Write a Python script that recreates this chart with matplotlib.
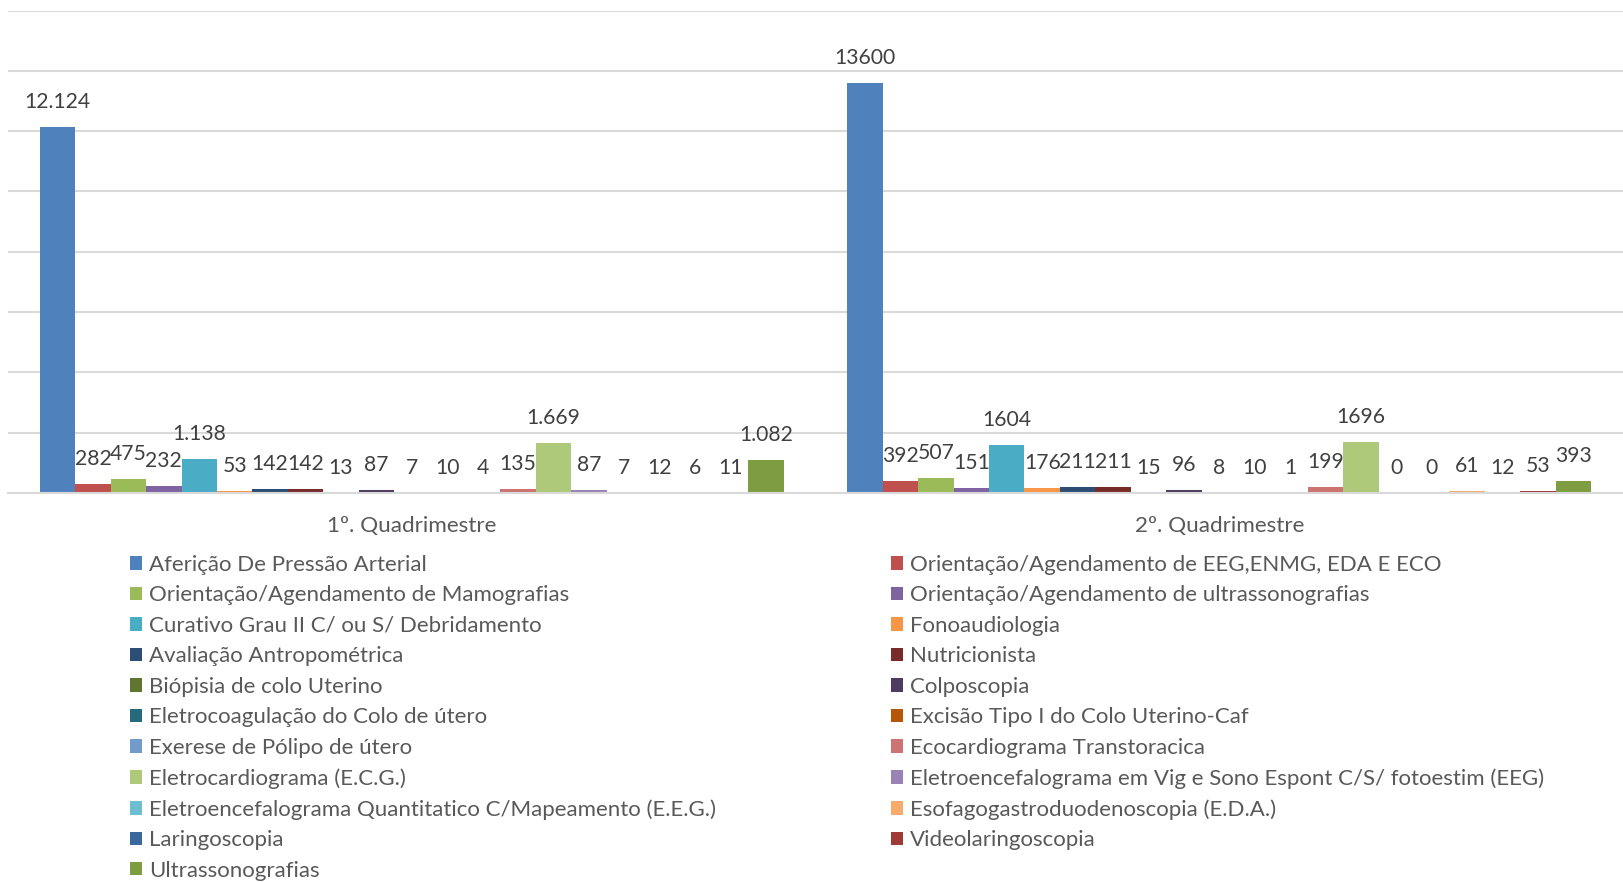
import matplotlib
matplotlib.use("Agg")
import matplotlib.pyplot as plt
import numpy as np

categories = ["1º. Quadrimestre", "2º. Quadrimestre"]

series_names = [
    "Aferição De Pressão Arterial",
    "Orientação/Agendamento de EEG,ENMG, EDA E ECO",
    "Orientação/Agendamento de Mamografias",
    "Orientação/Agendamento de ultrassonografias",
    "Curativo Grau II C/ ou S/ Debridamento",
    "Fonoaudiologia",
    "Avaliação Antropométrica",
    "Nutricionista",
    "Biópisia de colo Uterino",
    "Colposcopia",
    "Eletrocoagulação do Colo de útero",
    "Excisão Tipo I do Colo Uterino-Caf",
    "Exerese de Pólipo de útero",
    "Ecocardiograma Transtoracica",
    "Eletrocardiograma (E.C.G.)",
    "Eletroencefalograma em Vig e Sono Espont C/S/ fotoestim (EEG)",
    "Eletroencefalograma Quantitatico C/Mapeamento (E.E.G.)",
    "Esofagogastroduodenoscopia (E.D.A.)",
    "Laringoscopia",
    "Videolaringoscopia",
    "Ultrassonografias",
]

q1_values = [12124, 282, 475, 232, 1138, 53, 142, 142, 13, 87, 7, 10, 4, 135, 1669, 87, 7, 12, 6, 11, 1082]
q2_values = [13600, 392, 507, 151, 1604, 176, 211, 211, 15, 96, 8, 10, 1, 199, 1696, 0, 0, 61, 12, 53, 393]

colors = [
    "#4F81BD", "#C0504D", "#9BBB59", "#8064A2", "#4BACC6", "#F79646",
    "#2C4D75", "#772C2A", "#5F7530", "#4D3B62", "#276A7C", "#B65708",
    "#729ACA", "#CD7371", "#AFC97A", "#9983B5", "#6FBDD1", "#F9AB6B",
    "#3A679C", "#9E3B39", "#7E9D40",
]

FONT = "Lato"
plt.rcParams["font.family"] = [FONT, "DejaVu Sans"]

W, H = 1623, 882
fig = plt.figure(figsize=(W / 100, H / 100), dpi=100)
ax = fig.add_axes([8 / W, 1 - 493 / H, (W - 8) / W, (493 - 10.5) / H])

n = len(series_names)
group = 0.921
bw = group / n
x = np.arange(len(categories))

def fmt_q1(v):
    return f"{v:,}".replace(",", ".")

def fmt_q2(v):
    return str(v)

handles = []
for i in range(n):
    vals = [q1_values[i], q2_values[i]]
    xs = x - group / 2 + bw * (i + 0.5)
    b = ax.bar(xs, vals, width=bw, color=colors[i], label=series_names[i], zorder=3, linewidth=0)
    handles.append(b)
    for j, v in enumerate(vals):
        lab = fmt_q1(v) if j == 0 else fmt_q2(v)
        ax.annotate(lab, (xs[j], v), xytext=(0, 13.7), textcoords="offset points",
                    ha="center", va="baseline", fontsize=15.2, color="#404040", zorder=4)

ax.set_xlim(-0.5, 1.5)
ax.set_ylim(0, 16000)
ax.set_yticks(np.arange(0, 16001, 2000))
ax.yaxis.grid(True, color="#D9D9D9", linewidth=1.5, zorder=0)
ax.set_yticklabels([])
ax.tick_params(axis="y", length=0)
ax.set_xticks(x)
ax.set_xticklabels(categories, fontsize=16.2, color="#595959")
ax.tick_params(axis="x", length=0, pad=16.5)
for s in ["top", "right", "left"]:
    ax.spines[s].set_visible(False)
ax.spines["bottom"].set_color("#D9D9D9")
ax.spines["bottom"].set_linewidth(1.5)
ax.spines["bottom"].set_zorder(5)

order = list(range(0, n, 2)) + list(range(1, n, 2))
leg = fig.legend([handles[k] for k in order], [series_names[k] for k in order],
                 ncol=2, loc="upper left", bbox_to_anchor=(130 / W, 1 - 555 / H),
                 frameon=False, fontsize=16, handlelength=0.55, handleheight=0.55,
                 handletextpad=0.32, columnspacing=7.85, labelspacing=0.47,
                 borderpad=0, borderaxespad=0)
for t in leg.get_texts():
    t.set_color("#595959")

fig.savefig("out.png", dpi=100, facecolor="white")
